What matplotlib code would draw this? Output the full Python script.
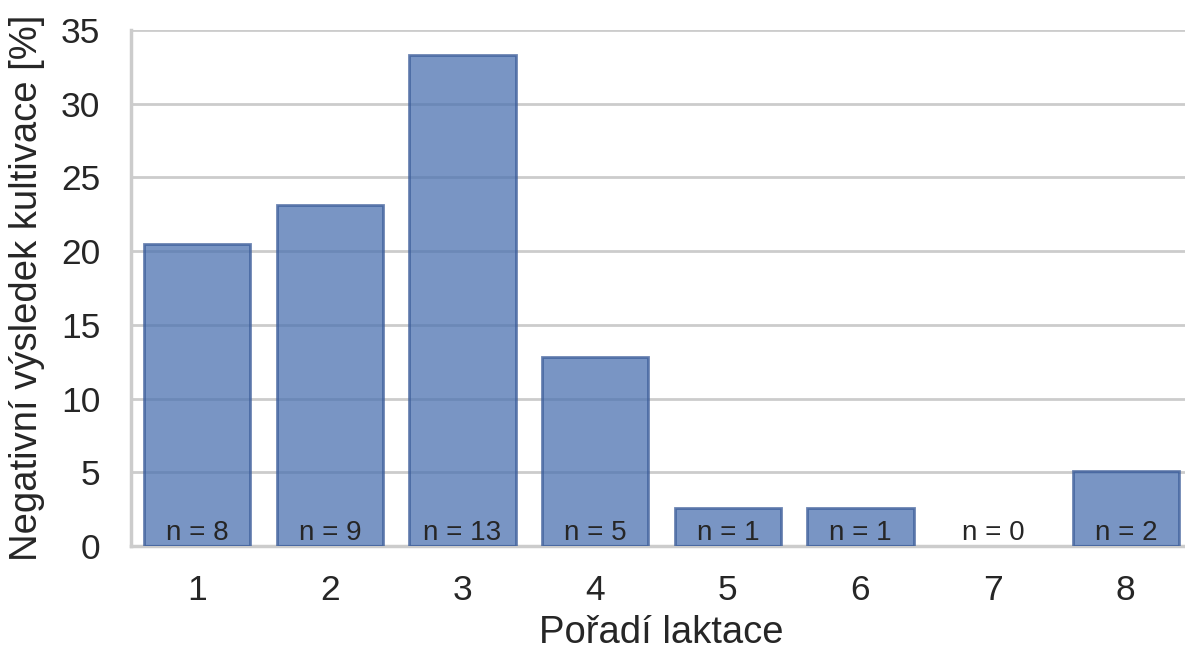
import matplotlib.pyplot as plt
import seaborn as sns

# data
laktace = ['1', '2', '3', '4', '5', '6', '7', '8']
negativni_pct = [20.5, 23.1, 33.3, 12.8, 2.6, 2.6, 0.0, 5.1]
pocty_n = [8, 9, 13, 5, 1, 1, 0, 2]

sns.set_style('whitegrid')
plt.rcParams['font.family'] = ['Liberation Sans', 'DejaVu Sans']

fig = plt.figure(figsize=(11.85, 6.51), dpi=100)
# axes runs a bit past the right edge, as in the reference
ax = fig.add_axes([0.1105, 0.1613, 0.8955, 0.7927])

x = list(range(len(laktace)))
bars = ax.bar(x, negativni_pct, width=0.8, color='#4C72B0', alpha=0.75,
              edgecolor='#3a5b98', linewidth=2, zorder=3)
# empty category: no outline drawn
for b, v in zip(bars, negativni_pct):
    if v == 0:
        b.set_linewidth(0)

for xi, n in zip(x, pocty_n):
    ax.text(xi, 0.4, f'n = {n}', ha='center', va='baseline',
            fontsize=20, color='#262626', zorder=4)

ax.set_xlim(-0.5, 7.5)
ax.set_ylim(0, 35)
ax.set_yticks(range(0, 36, 5))
ax.set_xticks(x)
ax.set_xticklabels(laktace)
ax.tick_params(axis='both', length=0, labelsize=25.5, colors='#262626')
ax.tick_params(axis='y', pad=22)
ax.tick_params(axis='x', pad=20)

ax.grid(axis='y', color='#cccccc', linewidth=2, zorder=0)
ax.grid(axis='x', visible=False)
for side in ['top', 'right']:
    ax.spines[side].set_visible(False)
for side in ['left', 'bottom']:
    ax.spines[side].set_color('#cccccc')
    ax.spines[side].set_linewidth(2.5)

ax.set_xlabel('Pořadí laktace', fontsize=27.5, color='#262626', labelpad=6)
ax.set_ylabel('Negativní výsledek kultivace [%]', fontsize=27.5,
              color='#262626')
ax.yaxis.set_label_coords(-0.081, 0.5)

plt.savefig('out.png', dpi=100)
